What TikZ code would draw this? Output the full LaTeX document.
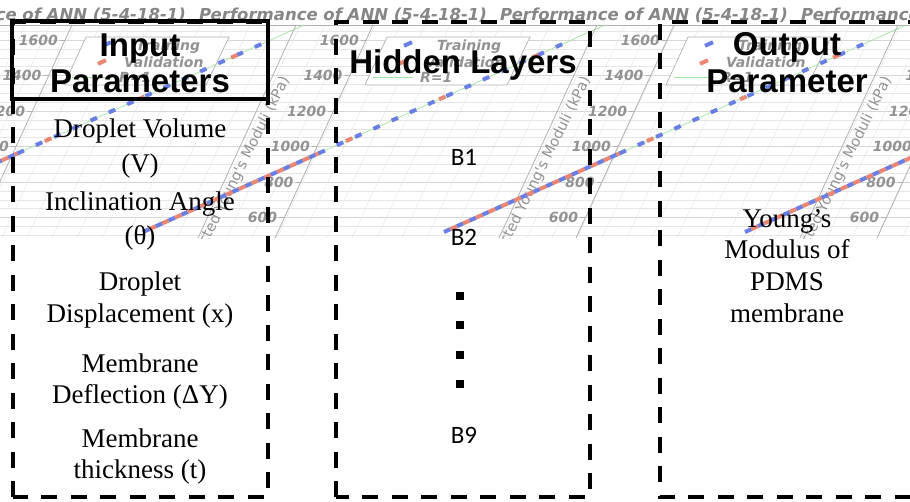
\documentclass[tikz,border=0pt]{standalone}
\usepackage{fontspec}
\setmainfont{Liberation Serif}
\newfontfamily\headfont{Liberation Sans}
\newfontfamily\calfont{Carlito}
\newfontfamily\bgfont{DejaVu Sans}
\usetikzlibrary{calc}
\definecolor{gridmin}{HTML}{E6E6E6}
\definecolor{gridmaj}{HTML}{D6D6D6}
\definecolor{axisg}{HTML}{B0B0B0}
\definecolor{labg}{HTML}{929292}
\definecolor{ttlg}{HTML}{868686}
\definecolor{bluem}{HTML}{6A7FE3}
\definecolor{redm}{HTML}{EA8672}
\definecolor{greenm}{HTML}{9EE69E}
\tikzset{
  gmin/.style={draw=gridmin, line width=0.5pt},
  gmaj/.style={draw=gridmaj, line width=0.7pt},
  axl/.style={draw=axisg, line width=0.8pt},
  ttl/.style={font=\bgfont\bfseries\itshape\fontsize{16.5}{16.5}\selectfont, text=ttlg, anchor=base, inner sep=0pt},
  ticklab/.style={font=\bgfont\bfseries\itshape\fontsize{14}{14}\selectfont, text=labg, anchor=east, inner sep=0pt},
  leglab/.style={font=\bgfont\bfseries\itshape\fontsize{14}{14}\selectfont, text=labg, anchor=base west, inner sep=0pt},
  ylab/.style={font=\bgfont\fontsize{14.5}{14.5}\selectfont, text=labg, anchor=east, inner sep=0pt, rotate=63.5},
  greenl/.style={draw=greenm, line width=0.7pt},
  bluel/.style={draw=bluem, line width=4pt},
  redl/.style={draw=redm, line width=4pt},
  dbox/.style={draw=black, line width=4.5pt, dash pattern=on 16pt off 13.5pt},
  tbox/.style={draw=black, line width=4pt},
  headtxt/.style={font=\headfont\bfseries\fontsize{33}{36}\selectfont, anchor=base, inner sep=0pt},
  listtxt/.style={font=\fontsize{27}{30}\selectfont, anchor=base, inner sep=0pt},
  btxt/.style={font=\calfont\fontsize{25}{30}\selectfont, anchor=base, inner sep=0pt},
  dotsq/.style={fill=black, minimum size=8pt, inner sep=0pt, shape=rectangle},
}
\begin{document}
\begin{tikzpicture}[x=1pt,y=-1pt]
\useasboundingbox (0,0) rectangle (910,501);
\clip (0,0) rectangle (910,501);
% ---------- faded background plots ----------
\begin{scope}
\clip (0,0) rectangle (910,238);
\foreach \i in {-1,...,22}{
  \pgfmathsetmacro\yy{40+8.875*\i}
  \pgfmathtruncatemacro\mm{mod(\i+4,4)}
  \ifnum\mm=0 \draw[gmaj] (0,\yy) -- (910,\yy); \else \draw[gmin] (0,\yy) -- (910,\yy); \fi
}
\foreach \x in {0,25,...,1025}{ \draw[gmin] (\x,25) -- (\x-98,238); }
\draw[axl] (0,25) -- (910,25);
\foreach \s in {-301,0,301,602}{
\begin{scope}[xshift=\s pt]
  \node[ttl] (ttl\s) at (343,20) {Performance of ANN (5-4-18-1)};
  \draw[axl] (373,25) -- (275,238);
  \draw[axl] (296,25) -- (198,238);
  \foreach \v/\yy in {1600/40,1400/75.5,1200/111,1000/146.5,800/182,600/217.5}{
    \pgfmathsetmacro\xx{366-0.46*(\yy-40)}
    \draw[axl] (\xx,\yy) -- ++(-5,0);
    \node[ticklab] (lab\s v\v) at (\xx-7,\yy) {\v};
  }
  \node[ylab] (ylab\s) at (286,78) {Predicted Young's Moduli (kPa)};
  % legend
  \filldraw[fill=white, draw=axisg, line width=0.7pt] (387,37) -- (530,37) -- (507,85) -- (365,85) -- cycle;
  \draw[bluel] (404,45.8) -- (412,42.2);
  \draw[redl] (399,63.8) -- (407,60.2);
  \draw[greenl] (373,77) -- (413,77);
  \node[leglab] (lt\s) at (437,50) {Training};
  \node[leglab] (lv\s) at (425,67) {Validation};
  \node[leglab] (lr\s) at (420,82) {R=1};
  % data line
  \coordinate (S\s) at (143,232);
  \coordinate (E\s) at (605,25);
  \draw[greenl] (S\s) -- (E\s);
  \draw[bluel, dash pattern=on 7pt off 7pt] (S\s) -- ($(S\s)!0.38!(E\s)$);
  \draw[redl, dash pattern=on 7pt off 7pt, dash phase=7pt] (S\s) -- ($(S\s)!0.38!(E\s)$);
  \draw[bluel, dash pattern=on 7pt off 13pt] ($(S\s)!0.38!(E\s)$) -- ($(S\s)!0.93!(E\s)$);
  \draw[redl, dash pattern=on 7pt off 95pt, dash phase=-30pt] ($(S\s)!0.38!(E\s)$) -- ($(S\s)!0.93!(E\s)$);
\end{scope}
}
\end{scope}
% ---------- foreground ----------
\draw[dbox] (13,497) -- (13,22) -- (268,22) -- (268,497) -- cycle;
\draw[dbox] (336,497) -- (336,22) -- (590,22) -- (590,497) -- cycle;
\draw[dbox] (940,497) -- (660,497) -- (660,22) -- (940,22);
\draw[tbox] (12,21) rectangle (268,99);
\node[headtxt] (in1) at (140,56) {Input};
\node[headtxt] (in2) at (140,92) {Parameters};
\node[headtxt] (hid) at (463,73) {Hidden Layers};
\node[headtxt] (out1) at (787,55) {Output};
\node[headtxt] (out2) at (787,92) {Parameter};
\node[listtxt] (p1a) at (140,137) {Droplet Volume};
\node[listtxt] (p1b) at (140,172) {(V)};
\node[listtxt] (p2a) at (140,210) {Inclination Angle};
\node[listtxt] (p2b) at (140,244) {(θ)};
\node[listtxt] (p3a) at (140,290) {Droplet};
\node[listtxt] (p3b) at (140,322) {Displacement (x)};
\node[listtxt] (p4a) at (140,372) {Membrane};
\node[listtxt] (p4b) at (140,403) {Deflection (ΔY)};
\node[listtxt] (p5a) at (140,447) {Membrane};
\node[listtxt] (p5b) at (140,478) {thickness (t)};
\node[btxt] (b1) at (464,165) {B1};
\node[btxt] (b2) at (464,245) {B2};
\node[btxt] (b9) at (464,443) {B9};
\node[dotsq] (d1) at (460,296) {};
\node[dotsq] (d2) at (460,325) {};
\node[dotsq] (d3) at (460,355) {};
\node[dotsq] (d4) at (460,384) {};
\node[listtxt] (o1) at (787,227) {Young's};
\node[listtxt] (o2) at (787,258) {Modulus of};
\node[listtxt] (o3) at (787,290) {PDMS};
\node[listtxt] (o4) at (787,322) {membrane};
\end{tikzpicture}
\end{document}
